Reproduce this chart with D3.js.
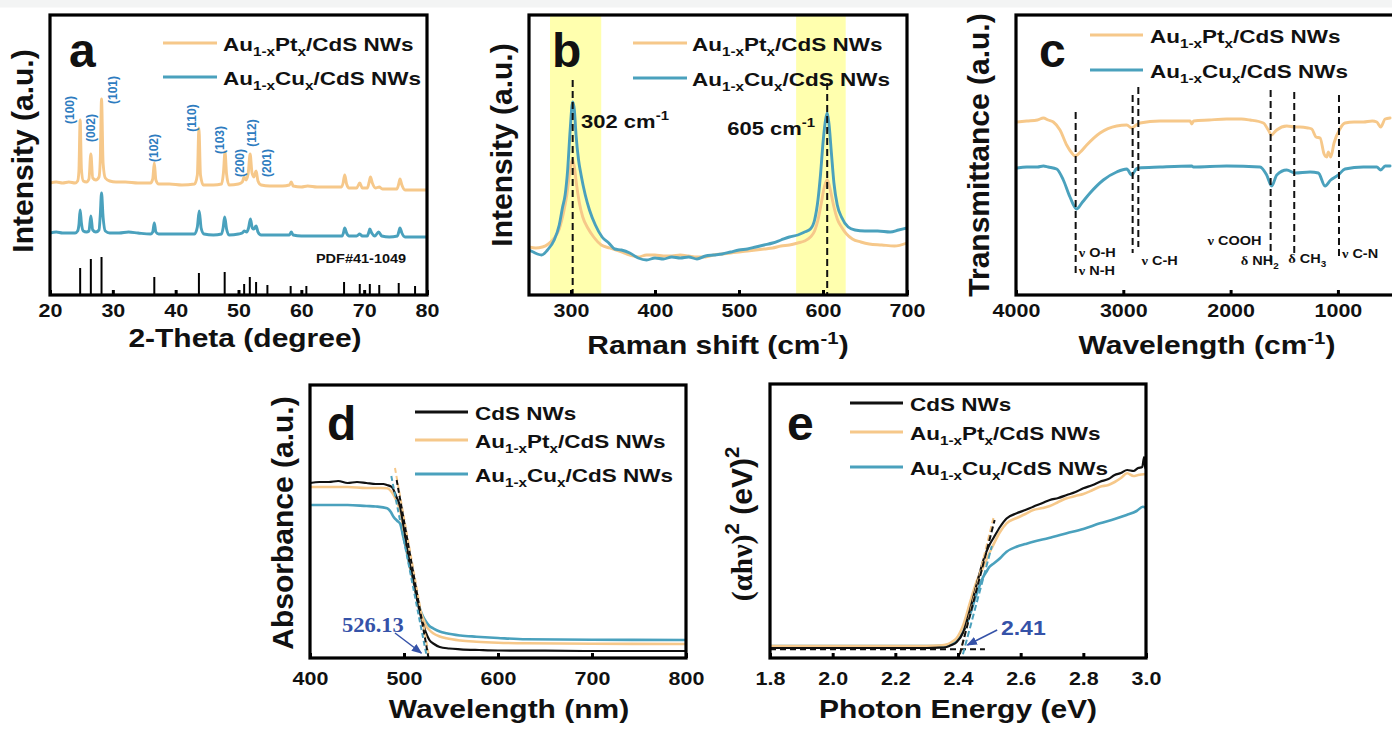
<!DOCTYPE html>
<html>
<head>
<meta charset="utf-8">
<script src="https://cdn.jsdelivr.net/npm/d3@7"></script>
<style>
  body { margin: 0; background: #fff; }
  svg { display: block; }
</style>
</head>
<body>
<svg id="fig" width="1392" height="729"></svg>
<script>
// ---------------- (a) XRD: [2-theta, intensity a.u.] ----------------
const xrdPt = [[20,112],[21,113],[22,112],[23,113],[24,112],[24.4,114],[24.6,124],[24.8,175],[25.0,126],[25.3,114],[25.8,113],[26.2,116],[26.5,141],[26.8,117],[27.3,115],[27.8,118],[28.0,135],[28.2,196],[28.45,132],[28.8,117],[29.5,114],[30.5,113],[32,113],[34,112],[36,112],[36.35,116],[36.6,132],[36.85,115],[37.3,111],[39,111],[41,110],[43,111],[43.45,120],[43.7,167],[43.95,120],[44.4,110],[46,110],[47.3,111],[47.6,122],[47.85,143],[48.1,121],[48.5,110],[50,111],[50.6,113],[50.9,118],[51.2,115],[51.55,122],[51.85,141],[52.15,122],[52.45,118],[52.8,124],[53.1,114],[53.6,110],[55,109],[57,109],[58.1,110],[58.4,113],[58.7,109],[60,108],[61,109],[62.5,108],[64.5,108],[66.4,108],[66.65,112],[66.9,120],[67.2,111],[67.6,107],[68.8,107],[69.3,112],[69.7,107],[70.5,107],[70.8,113],[71.0,118],[71.3,112],[71.8,107],[72.4,108],[72.9,106],[74,106],[75.2,106],[75.5,111],[75.7,116],[76.0,110],[76.5,105],[78,105],[80,105]];
const xrdCu = [[20,62],[21,63],[22,62],[23,62],[24,62],[24.4,64],[24.6,70],[24.8,85],[25.0,72],[25.3,64],[25.8,63],[26.2,64],[26.5,79],[26.8,65],[27.3,63],[27.8,65],[28.0,80],[28.2,102],[28.45,78],[28.8,64],[29.5,62],[31,62],[32.5,63],[34,62],[36,61],[36.35,63],[36.6,72],[36.85,63],[37.3,61],[39,61],[41,61],[43,61],[43.45,68],[43.75,84],[44.05,67],[44.5,61],[46,60],[47.3,61],[47.55,67],[47.8,78],[48.1,66],[48.5,60],[50,61],[50.6,62],[50.9,64],[51.3,63],[51.6,67],[51.9,76],[52.2,67],[52.45,66],[52.8,69],[53.1,63],[53.6,60],[55,60],[57,60],[58.1,60],[58.4,63],[58.7,60],[60,59],[62.5,59],[64.5,59],[66.5,59],[66.7,62],[66.9,67],[67.2,62],[67.6,59],[68.8,59],[69.3,61],[69.7,59],[70.5,59],[70.7,62],[70.9,66],[71.2,62],[71.7,59],[72.3,63],[72.8,59],[74,58],[75.3,59],[75.5,63],[75.7,67],[76.0,62],[76.5,58],[78,58],[80,58]];
// standard card PDF#41-1049
const refPos = [24.8,26.5,28.2,36.6,43.7,47.8,50.9,51.8,52.8,54.6,58.3,60.8,66.8,69.3,70.9,72.4,75.5,78.1];
const refInt = [27,36,38,18,22,23,11,18,13,10,9,9,13,11,11,10,12,9];
const hklNames = ["(100)","(002)","(101)","(102)","(110)","(103)","(200)","(112)","(201)"];

// ---------------- (b) Raman: [shift cm-1, intensity] ----------------
const ramanPt = [[250,48],[258,47],[266,48],[273,51],[280,57],[286,66],[291,82],[295,100],[298,120],[300,131],[302,135],[304,128],[307,108],[310,92],[314,78],[320,67],[327,58],[336,50],[346,47],[360,43],[370,40],[380,38],[390,40],[400,40],[410,39],[420,39],[430,40],[440,39],[450,38],[460,38],[470,40],[480,41],[490,42],[500,43],[510,44],[520,45],[530,46],[540,47],[550,49],[560,50],[570,52],[578,54],[585,58],[590,64],[594,75],[598,92],[601,106],[603,112],[605,115],[607,111],[610,100],[613,88],[617,76],[622,68],[628,61],[635,56],[645,53],[655,51],[670,50],[685,49],[700,52]];
const ramanCu = [[250,45],[255,43],[260,41],[265,40],[272,45],[280,55],[286,70],[290,88],[293,100],[296,125],[299,165],[302,193],[304,185],[306,160],[309,135],[312,120],[317,100],[322,85],[329,70],[337,58],[345,52],[352,46],[360,45],[370,42],[380,37],[390,35],[400,37],[410,36],[420,38],[430,37],[440,38],[450,36],[460,39],[470,40],[480,41],[490,43],[500,45],[510,46],[520,48],[530,50],[540,52],[550,55],[560,58],[570,60],[578,63],[585,66],[590,75],[594,95],[597,120],[600,152],[603,175],[605,182],[607,172],[610,142],[613,112],[617,90],[622,78],[630,68],[638,65],[650,64],[665,64],[680,63],[690,65],[700,67]];
const ramanPeaks = [302, 605];

// ---------------- (c) FTIR: [wavenumber cm-1, transmittance a.u.] ----------------
const ftirPt = [[3990,173],[3900,174],[3800,175],[3745,177],[3700,175],[3652,173],[3590,165],[3528,150],[3480,142],[3450,139],[3400,143],[3341,150],[3217,162],[3062,169],[2968,170],[2922,167],[2880,170],[2844,172],[2658,174],[2378,174],[2362,171],[2345,174],[2200,175],[2037,176],[1900,176],[1819,175],[1695,172],[1649,165],[1617,160],[1590,163],[1570,165],[1477,169],[1400,168],[1353,168],[1280,167],[1244,166],[1204,158],[1166,157],[1129,141],[1104,138],[1089,143],[1067,138],[1036,152],[987,165],[934,172],[850,173],[763,173],[680,174],[638,173],[601,168],[560,176],[514,177]];
const ftirCu = [[3990,127],[3900,128],[3800,128],[3745,129],[3700,128],[3621,126],[3559,115],[3497,98],[3435,86],[3380,93],[3310,102],[3186,115],[3062,123],[2968,126],[2922,120],[2880,126],[2860,127],[2658,128],[2362,129],[2347,128],[2037,129],[1726,128],[1664,120],[1617,109],[1570,120],[1477,125],[1400,122],[1260,123],[1182,122],[1120,109],[1067,115],[996,120],[934,126],[763,128],[638,128],[601,125],[560,129],[514,129]];
const ftirBands = [3444, 2913, 2860, 1627, 1407, 990];

// ---------------- (d) UV-vis: [wavelength nm, absorbance a.u.] ----------------
const uvCdS = [[400,175],[410,176],[420,176],[430,177],[440,175],[450,176],[460,175],[470,174],[478,174],[482,173],[487,171],[492,161],[496,151],[499,135],[503,111],[506,95],[510,78],[514,58],[517,45],[520,35],[523,26],[527,18],[532,14],[538,11],[548,9.5],[560,8.7],[580,8],[600,7.5],[650,7.3],[700,7],[750,7],[800,7]];
const uvPt = [[400,171],[420,171],[440,171],[460,170],[475,170],[482,169.7],[486,167],[489,163],[493,155],[496,147],[499,132],[503,111],[506,95],[510,78],[514,60],[517,48],[520,40],[523,33],[527,28],[531,24.7],[538,21.5],[545,19.7],[560,17.5],[577,16.3],[600,15.3],[630,14.7],[700,14.3],[800,14]];
const uvCu = [[400,153],[420,153],[440,153],[460,152],[470,151.5],[482,149.7],[486,146],[489,141],[493,137],[496,134],[499,122],[503,106],[506,92],[510,77],[514,60],[517,49],[520,42],[523,37],[527,32],[531,29.7],[538,26.5],[545,24.7],[560,22.5],[577,21.3],[600,20],[630,18.7],[700,18.3],[800,18]];
const edgeNm = 526.13;

// ---------------- (e) Tauc plot: [photon energy eV, (ahv)^2 a.u.] ----------------
const taucCdS = [[1.8,10],[1.9,10],[2.0,10],[2.1,10],[2.2,10],[2.3,10],[2.34,10.3],[2.364,11],[2.38,13],[2.396,16],[2.417,26],[2.438,48],[2.46,74],[2.481,98],[2.497,111],[2.515,121],[2.534,131],[2.555,139.5],[2.587,144.7],[2.615,148],[2.64,151.3],[2.67,155],[2.693,158],[2.72,160],[2.747,163],[2.775,166],[2.8,169.7],[2.83,173],[2.853,176.3],[2.88,179],[2.9,183],[2.92,185],[2.94,188],[2.96,187],[2.975,190],[2.988,191],[2.994,201],[2.998,190],[3.0,189]];
const taucPt = [[1.8,12],[2.0,12],[2.2,12],[2.3,12],[2.34,12.5],[2.364,13.5],[2.38,16],[2.396,20],[2.417,33],[2.438,55],[2.46,77],[2.481,91.3],[2.5,105],[2.515,114.7],[2.534,126],[2.555,134.7],[2.587,140],[2.615,144],[2.64,148],[2.67,150],[2.693,152],[2.72,156],[2.747,159.7],[2.775,162],[2.8,164],[2.83,168],[2.853,171.3],[2.88,173],[2.9,176],[2.92,180],[2.94,184.7],[2.96,182],[2.975,183],[3.0,184]];
const taucCu = [[1.8,12],[2.0,12],[2.2,12],[2.3,12],[2.34,12.3],[2.364,13],[2.38,15],[2.396,17.3],[2.417,26.3],[2.438,43],[2.46,64.7],[2.481,81.3],[2.49,86],[2.5,91],[2.515,94.7],[2.535,100],[2.555,106.3],[2.587,111.3],[2.615,114],[2.64,116.3],[2.69,120],[2.747,124.7],[2.8,129],[2.853,134.7],[2.9,139],[2.938,143],[2.97,147],[2.99,151.3],[3.0,150]];
const bandGap = 2.41;

// ---------------- styling ----------------
const ORANGE = "#F6C88A", BLUE = "#4AA1BD", BLACK = "#111111", NOTE = "#3552A8";
const SANS = "'Liberation Sans', Arial, Helvetica, sans-serif";
const SERIF = "'Liberation Serif', 'Times New Roman', serif";
const SQ = 0.83;   // vertical squash applied to horizontal text

const svg = d3.select("#fig");
svg.append("rect").attr("width", 1392).attr("height", 729).attr("fill", "#fff");
svg.append("rect").attr("width", 1392).attr("height", 7.5).attr("fill", "#f3f4f4");
const defs = svg.append("defs");
defs.append("marker").attr("id", "arr").attr("viewBox", "0 0 10 10")
  .attr("refX", 9).attr("refY", 5).attr("markerWidth", 7).attr("markerHeight", 7)
  .attr("orient", "auto-start-reverse")
  .append("path").attr("d", "M0,1 L10,5 L0,9 z").attr("fill", NOTE);

// text with sub/superscript parts: "str" | [str, "sub"|"sup"|"n", family]
function label(g, x, y, parts, o = {}) {
  const size = o.size || 22;
  const t = g.append("text")
    .attr("transform", o.rotate
      ? `translate(${x},${y}) rotate(-90)`
      : `translate(${x},${y}) scale(1,${o.sq ?? SQ})`)
    .attr("font-family", o.family || SANS)
    .attr("font-weight", o.weight || "bold")
    .attr("font-size", size)
    .attr("fill", o.color || BLACK)
    .attr("text-anchor", o.anchor || "start");
  if (o.central) t.attr("dominant-baseline", "central");
  let shift = 0;
  parts.forEach(p => {
    const [s, kind, fam] = typeof p === "string" ? [p, "n"] : p;
    const fs = kind === "n" ? size : size * 0.68;
    const target = kind === "sub" ? size * 0.3 : kind === "sup" ? -size * 0.42 : 0;
    const sp = t.append("tspan").text(s).attr("font-size", fs).attr("dy", target - shift);
    if (fam) sp.attr("font-family", fam);
    shift = target;
  });
  return t;
}

let clipId = 0;
function panel(f, xDomain, yMax, ticks, fmt, tickOffset) {
  const g = svg.append("g");
  const x = d3.scaleLinear().domain(xDomain).range([f.x0, f.x1]);
  const y = d3.scaleLinear().domain([0, yMax]).range([f.y1, f.y0]);
  const id = "clip" + (clipId++);
  defs.append("clipPath").attr("id", id).append("rect")
    .attr("x", f.x0).attr("y", f.y0).attr("width", f.x1 - f.x0).attr("height", f.y1 - f.y0);
  const under = g.append("g").attr("clip-path", `url(#${id})`);
  const plot = g.append("g").attr("clip-path", `url(#${id})`);
  const over = g.append("g");
  g.append("rect").attr("x", f.x0).attr("y", f.y0)
    .attr("width", f.x1 - f.x0).attr("height", f.y1 - f.y0)
    .attr("fill", "none").attr("stroke", "#000").attr("stroke-width", 3.2);
  const ax = g.append("g").attr("transform", `translate(0,${f.y1})`)
    .call(d3.axisBottom(x).tickValues(ticks).tickSize(-5).tickFormat(fmt));
  ax.select(".domain").remove();
  ax.selectAll(".tick line").attr("stroke", "#000").attr("stroke-width", 3);
  ax.selectAll(".tick text").attr("y", null).attr("dy", null)
    .attr("transform", `translate(0,${tickOffset}) scale(1,${SQ})`)
    .attr("font-family", SANS).attr("font-weight", "bold")
    .attr("font-size", 21.5).attr("fill", BLACK);
  return { g, x, y, under, plot, over };
}

function curve(p, data, color, width) {
  const line = d3.line().x(d => p.x(d[0])).y(d => p.y(d[1])).curve(d3.curveMonotoneX);
  p.plot.append("path").datum(data).attr("d", line)
    .attr("fill", "none").attr("stroke", color).attr("stroke-width", width)
    .attr("stroke-linejoin", "round").attr("stroke-linecap", "round");
}

function legend(g, x0, x1, tx, rows) {
  rows.forEach(r => {
    g.append("line").attr("x1", x0).attr("x2", x1).attr("y1", r.y).attr("y2", r.y)
      .attr("stroke", r.color).attr("stroke-width", 3.2);
    label(g, tx, r.y + 7.5, r.parts, { size: 22.5 });
  });
}

const PT = ["Au", ["1-x", "sub"], "Pt", ["x", "sub"], "/CdS NWs"];
const CU = ["Au", ["1-x", "sub"], "Cu", ["x", "sub"], "/CdS NWs"];
const CDS = ["CdS NWs"];

// ======================= (a) =======================
{
  const p = panel({ x0: 50, x1: 427, y0: 15, y1: 295 }, [20, 80], 280,
    d3.range(20, 81, 10), d3.format("d"), 22);
  curve(p, xrdPt, ORANGE, 2.9);
  curve(p, xrdCu, BLUE, 2.9);
  p.plot.selectAll(".ref").data(refPos).join("line")
    .attr("x1", d => p.x(d)).attr("x2", d => p.x(d))
    .attr("y1", p.y(0)).attr("y2", (d, i) => p.y(refInt[i]))
    .attr("stroke", "#000").attr("stroke-width", 2);
  // Miller index labels: [2-theta anchor, intensity anchor]
  const hklAt = [[23.2,185],[26.5,167],[30.0,205],[36.6,147],[42.6,177],[47.1,155],[50.2,132],[52.2,162],[54.6,132]];
  hklNames.forEach((n, i) => {
    label(p.g, p.x(hklAt[i][0]), p.y(hklAt[i][1]), [n],
      { size: 12, rotate: true, anchor: "middle", central: true, color: "#2E7CC0" });
  });
  label(p.g, 361, 263, ["PDF#41-1049"], { size: 14.5, anchor: "middle" });
  legend(p.g, 163, 217, 223, [{ y: 43, color: ORANGE, parts: PT }, { y: 77, color: BLUE, parts: CU }]);
  label(p.g, 69, 67, ["a"], { size: 48, sq: 1 });
  label(p.g, 33, 151, ["Intensity (a.u.)"], { size: 30, rotate: true, anchor: "middle" });
  label(p.g, 245, 347, ["2-Theta (degree)"], { size: 30, anchor: "middle" });
}

// ======================= (b) =======================
{
  const p = panel({ x0: 529, x1: 907, y0: 15, y1: 295 }, [250, 700], 280,
    [300, 400, 500, 600, 700], d3.format("d"), 22);
  [[275, 336], [568, 627]].forEach(b => {
    p.under.append("rect").attr("x", p.x(b[0])).attr("width", p.x(b[1]) - p.x(b[0]))
      .attr("y", 15).attr("height", 280).attr("fill", "#FFFFAE");
  });
  curve(p, ramanPt, ORANGE, 2.9);
  curve(p, ramanCu, BLUE, 2.9);
  const tops = [215, 212];
  ramanPeaks.forEach((s, i) => {
    p.plot.append("line").attr("x1", p.x(s)).attr("x2", p.x(s))
      .attr("y1", p.y(tops[i])).attr("y2", p.y(0))
      .attr("stroke", "#111").attr("stroke-width", 2).attr("stroke-dasharray", "7,4");
  });
  label(p.g, p.x(312), p.y(167), ["302 cm", ["-1", "sup"]], { size: 22 });
  label(p.g, p.x(486), p.y(160), ["605 cm", ["-1", "sup"]], { size: 22 });
  legend(p.g, 633, 687, 692, [{ y: 43, color: ORANGE, parts: PT }, { y: 78, color: BLUE, parts: CU }]);
  label(p.g, 552, 67, ["b"], { size: 48, sq: 1 });
  label(p.g, 512, 145, ["Intensity (a.u.)"], { size: 30, rotate: true, anchor: "middle" });
  label(p.g, 718, 354, ["Raman shift (cm", ["-1", "sup"], [")", "n"]], { size: 30, anchor: "middle" });
}

// ======================= (c) =======================
{
  const p = panel({ x0: 1016, x1: 1395, y0: 15, y1: 295 }, [4000, 468], 280,
    [4000, 3000, 2000, 1000], d3.format("d"), 22);
  curve(p, ftirPt, ORANGE, 2.9);
  curve(p, ftirCu, BLUE, 2.9);
  const spans = [[183, 22], [200, 42], [208, 48], [205, 30], [203, 38], [200, 37]];
  ftirBands.forEach((w, i) => {
    p.plot.append("line").attr("x1", p.x(w)).attr("x2", p.x(w))
      .attr("y1", p.y(spans[i][0])).attr("y2", p.y(spans[i][1]))
      .attr("stroke", "#111").attr("stroke-width", 2).attr("stroke-dasharray", "7,4");
  });
  const nu = ["ν", "n", SERIF], delta = ["δ", "n", SERIF];
  const notes = [
    { w: 3415, t: 38, parts: [nu, " O-H"] },
    { w: 3415, t: 20, parts: [nu, " N-H"] },
    { w: 2830, t: 30, parts: [nu, " C-H"] },
    { w: 2215, t: 50, parts: [nu, " COOH"] },
    { w: 1905, t: 30, parts: [delta, " NH", ["2", "sub"]] },
    { w: 1463, t: 32, parts: [delta, " CH", ["3", "sub"]] },
    { w: 963, t: 37, parts: [nu, " C-N"] }
  ];
  notes.forEach(n => label(p.g, p.x(n.w), p.y(n.t), n.parts, { size: 14.5 }));
  legend(p.g, 1090, 1143, 1150, [{ y: 35, color: ORANGE, parts: PT }, { y: 70, color: BLUE, parts: CU }]);
  label(p.g, 1039, 67, ["c"], { size: 48, sq: 1 });
  label(p.g, 989, 155, ["Transmittance (a.u.)"], { size: 30, rotate: true, anchor: "middle" });
  label(p.g, 1207, 354, ["Wavelength (cm", ["-1", "sup"], [")", "n"]], { size: 30, anchor: "middle" });
}

// ======================= (d) =======================
{
  const p = panel({ x0: 310, x1: 686, y0: 385, y1: 658 }, [400, 800], 273,
    [400, 500, 600, 700, 800], d3.format("d"), 27);
  curve(p, uvCu, BLUE, 2.6);
  curve(p, uvPt, ORANGE, 2.6);
  curve(p, uvCdS, BLACK, 2.2);
  // absorption-edge tangents meeting the baseline near the edge wavelength
  const tang = [
    { top: [486.5, 182], end: [524.5, 0], color: BLUE },
    { top: [490.4, 190], end: [edgeNm + 0.9, 0], color: ORANGE },
    { top: [492.2, 178], end: [edgeNm, 0], color: BLACK }
  ];
  tang.forEach(t => {
    p.over.append("line").attr("x1", p.x(t.top[0])).attr("y1", p.y(t.top[1]))
      .attr("x2", p.x(t.end[0])).attr("y2", p.y(t.end[1]))
      .attr("stroke", t.color).attr("stroke-width", 2).attr("stroke-dasharray", "5,3");
  });
  p.over.append("line").attr("x1", p.x(490.4)).attr("y1", p.y(25))
    .attr("x2", p.x(518.5)).attr("y2", p.y(5))
    .attr("stroke", NOTE).attr("stroke-width", 1.5).attr("marker-end", "url(#arr)");
  label(p.g, p.x(434), p.y(26), [String(edgeNm)], { size: 22.5, family: SERIF, color: NOTE, sq: 0.9 });
  legend(p.g, 415, 468, 475, [
    { y: 412, color: BLACK, parts: CDS },
    { y: 440, color: ORANGE, parts: PT },
    { y: 474, color: BLUE, parts: CU }]);
  label(p.g, 327, 440, ["d"], { size: 48, sq: 1 });
  label(p.g, 293, 523, ["Absorbance (a.u.)"], { size: 30, rotate: true, anchor: "middle" });
  label(p.g, 509, 718, ["Wavelength (nm)"], { size: 30, anchor: "middle" });
}

// ======================= (e) =======================
{
  const p = panel({ x0: 770, x1: 1146, y0: 384, y1: 658 }, [1.8, 3.0], 274,
    d3.range(1.8, 3.01, 0.2), d3.format(".1f"), 27);
  curve(p, taucCu, BLUE, 2.6);
  curve(p, taucPt, ORANGE, 2.6);
  curve(p, taucCdS, BLACK, 2.2);
  const base = 8.7;
  // baseline extrapolation and linear-region tangents crossing it at the gap energy
  p.over.append("line").attr("x1", p.x(1.8)).attr("x2", p.x(2.486))
    .attr("y1", p.y(base)).attr("y2", p.y(base))
    .attr("stroke", BLACK).attr("stroke-width", 2).attr("stroke-dasharray", "6,4");
  const slopes = [
    { top: [2.508, 112], color: BLUE, e0: bandGap + 0.01 },
    { top: [2.513, 140], color: ORANGE, e0: bandGap },
    { top: [2.517, 138], color: BLACK, e0: bandGap }
  ];
  slopes.forEach(s => {
    const k = (s.top[1] - base) / (s.top[0] - s.e0);
    const lo = [s.e0 - 5 / k, base - 5];
    p.over.append("line").attr("x1", p.x(lo[0])).attr("y1", p.y(lo[1]))
      .attr("x2", p.x(s.top[0])).attr("y2", p.y(s.top[1]))
      .attr("stroke", s.color).attr("stroke-width", 2).attr("stroke-dasharray", "6,3");
  });
  p.over.append("line").attr("x1", p.x(2.525)).attr("y1", p.y(28))
    .attr("x2", p.x(2.43)).attr("y2", p.y(13))
    .attr("stroke", NOTE).attr("stroke-width", 1.5).attr("marker-end", "url(#arr)");
  label(p.g, p.x(2.537), p.y(23), [String(bandGap)], { size: 23, color: NOTE, sq: 0.9 });
  legend(p.g, 850, 903, 910, [
    { y: 403, color: BLACK, parts: CDS },
    { y: 432, color: ORANGE, parts: PT },
    { y: 467, color: BLUE, parts: CU }]);
  label(p.g, 787, 440, ["e"], { size: 48, sq: 1 });
  label(p.g, 752, 524, [["(αhν)", "n", SERIF], ["2", "sup"], [" (eV)", "n"], ["2", "sup"]],
    { size: 30, rotate: true, anchor: "middle" });
  label(p.g, 958, 718, ["Photon Energy (eV)"], { size: 30, anchor: "middle" });
}
</script>
</body>
</html>
